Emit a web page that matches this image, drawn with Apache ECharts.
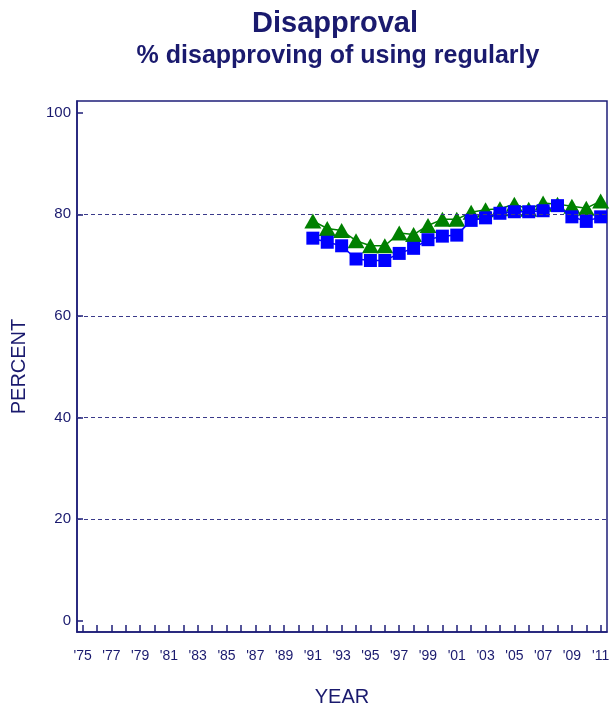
<!DOCTYPE html>
<html>
<head>
<meta charset="utf-8">
<script src="https://cdn.jsdelivr.net/npm/echarts@6/dist/echarts.min.js"></script>
<style>
  html, body { margin: 0; padding: 0; background: #fff; }
  #chart { width: 611px; height: 708px; }
</style>
</head>
<body>
<div id="chart"></div>
<script>
const years = [1991, 1992, 1993, 1994, 1995, 1996, 1997, 1998, 1999, 2000, 2001,
  2002, 2003, 2004, 2005, 2006, 2007, 2008, 2009, 2010, 2011];
const greenValues = [78.7, 77.2, 76.8, 74.8, 73.8, 73.8, 76.3, 76.0, 77.8, 79.0, 79.0,
  80.4, 80.9, 81.1, 82.0, 81.0, 82.2, 82.0, 81.6, 81.2, 82.6];
const blueValues = [75.3, 74.5, 73.8, 71.2, 70.9, 70.9, 72.3, 73.3, 75.0, 75.7, 75.9,
  78.8, 79.3, 80.2, 80.5, 80.5, 80.7, 81.7, 79.5, 78.6, 79.5];
const xTicks = [];
for (let y = 1975; y <= 2011; y++) xTicks.push(y);
const xLabels = xTicks.filter((y) => y % 2 === 1);
const yTicks = [0, 20, 40, 60, 80, 100];
const gridValues = [20, 40, 60, 80];

const navy = "#1a1a6e";
const axisColor = "#1e1e78";

const chart = echarts.init(document.getElementById("chart"));

const pairs = (vals) => years.map((y, i) => [y, vals[i]]);

chart.setOption({
  animation: false,
  title: [
    {
      text: "Disapproval",
      left: 330,
      top: 4,
      textAlign: "center",
      textStyle: { color: navy, fontSize: 29, fontWeight: "bold", fontFamily: "Liberation Sans" },
    },
    {
      text: "% disapproving of using regularly",
      left: 333,
      top: 39,
      textAlign: "center",
      textStyle: { color: navy, fontSize: 25, fontWeight: "bold", fontFamily: "Liberation Sans" },
    },
  ],
  grid: {
    left: 77,
    right: 4,
    top: 101,
    bottom: 76,
    outerBoundsMode: "none",
    containLabel: false,
    show: true,
    borderColor: axisColor,
    borderWidth: 1.5,
  },
  xAxis: {
    type: "value",
    min: 1974.61,
    max: 2011.44,
    name: "YEAR",
    nameLocation: "middle",
    nameGap: 55,
    nameTextStyle: { color: navy, fontSize: 20, fontFamily: "Liberation Sans" },
    axisLine: { onZero: false, lineStyle: { color: axisColor, width: 1.5 } },
    axisTick: {
      inside: true,
      length: 7,
      customValues: xTicks,
      lineStyle: { color: axisColor, width: 1.5 },
    },
    axisLabel: {
      customValues: xLabels,
      color: navy,
      fontSize: 14,
      fontFamily: "Liberation Sans",
      margin: 17,
      formatter: (v) => "'" + String(v).slice(2),
    },
    splitLine: { show: false },
  },
  yAxis: {
    type: "value",
    min: -2.22,
    max: 102.3,
    name: "PERCENT",
    nameLocation: "middle",
    nameGap: 48,
    nameTextStyle: { color: navy, fontSize: 20, fontFamily: "Liberation Sans" },
    axisLine: { show: true, onZero: false, lineStyle: { color: axisColor, width: 1.5 } },
    axisTick: {
      inside: true,
      length: 6,
      customValues: yTicks,
      lineStyle: { color: axisColor, width: 1.5 },
    },
    axisLabel: {
      customValues: yTicks,
      color: navy,
      fontSize: 15,
      fontFamily: "Liberation Sans",
      margin: 6,
    },
    splitLine: { show: false },
  },
  series: [
    {
      type: "line",
      data: [],
      markLine: {
        silent: true,
        symbol: "none",
        label: { show: false },
        lineStyle: { color: "#3a3a8a", type: [4, 3], width: 1 },
        data: gridValues.map((v) => ({ yAxis: v })),
      },
    },
    {
      name: "green",
      type: "line",
      data: pairs(greenValues),
      symbol: "triangle",
      symbolSize: [17, 15],
      lineStyle: { color: "#008000", width: 1.5 },
      itemStyle: { color: "#008000" },
      z: 3,
    },
    {
      name: "blue",
      type: "line",
      data: pairs(blueValues),
      symbol: "rect",
      symbolSize: 13,
      lineStyle: { color: "#0000ff", width: 1.5 },
      itemStyle: { color: "#0000ff" },
      z: 4,
    },
  ],
});
</script>
</body>
</html>
